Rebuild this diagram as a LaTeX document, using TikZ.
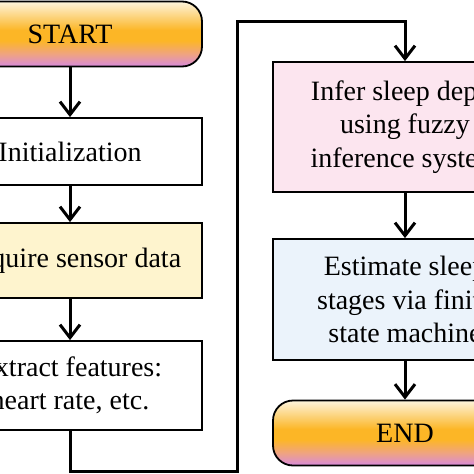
\documentclass[tikz,border=0pt]{standalone}
\usepackage{fontspec}
\setmainfont{Liberation Serif}
\usepackage{xcolor}
\usepackage{tikz}
\usetikzlibrary{arrows.meta}
\definecolor{fCream}{HTML}{FDF4DC}
\definecolor{fOrange}{HTML}{FCB626}
\definecolor{fPeach}{HTML}{F0A47E}
\definecolor{fPurple}{HTML}{D78ADC}
\definecolor{fAcquire}{HTML}{FEF4CE}
\definecolor{fInfer}{HTML}{FCE5EF}
\definecolor{fEstimate}{HTML}{EBF3FB}
\pgfdeclareverticalshading{termgrad}{100bp}{color(0bp)=(fPurple); color(25bp)=(fPurple); color(35bp)=(fPeach); color(45bp)=(fOrange); color(53bp)=(fOrange); color(75bp)=(fCream); color(100bp)=(fCream)}

\begin{document}
\begin{tikzpicture}[x=1pt, y=-1pt, font=\fontsize{28}{33.5}\selectfont,
  box/.style={draw=black, line width=1.8pt, minimum width=264pt, align=center, inner sep=0pt},
  term/.style={box, rounded corners=20pt, shade, shading=termgrad, minimum height=65pt},
  flow/.style={-{Straight Barb[length=13pt,width=20pt]}, line width=3pt}]
\clip (0,0) rectangle (474,474);
\node[term] (start) at (70,34) {START};
\node[box, minimum height=67pt] (init) at (70,151.5) {Initialization};
\node[box, fill=fAcquire, minimum height=75pt] (acquire) at (70,260.5) {Acquire sensor data};
\node[box, minimum height=89pt] (extract) at (70,385.5) {Extract features:\\ heart rate, etc.};
\node[box, fill=fInfer, minimum height=130pt] (infer) at (405,127) {Infer sleep depth\\ using fuzzy\\ inference system};
\node[box, fill=fEstimate, minimum height=121pt] (estimate) at (405,299.5) {Estimate sleep\\ stages via finite\\ state machine};
\node[term] (stop) at (405,433) {END};
\coordinate (loopb) at (237,471);
\coordinate (loopt) at (237,21);
\draw[flow] (start) -- (init);
\draw[flow] (init) -- (acquire);
\draw[flow] (acquire) -- (extract);
\draw[flow] (extract.south) |- (loopb) -- (loopt) -| (infer.north);
\draw[flow] (infer) -- (estimate);
\draw[flow] (estimate) -- (stop);
\end{tikzpicture}
\end{document}
